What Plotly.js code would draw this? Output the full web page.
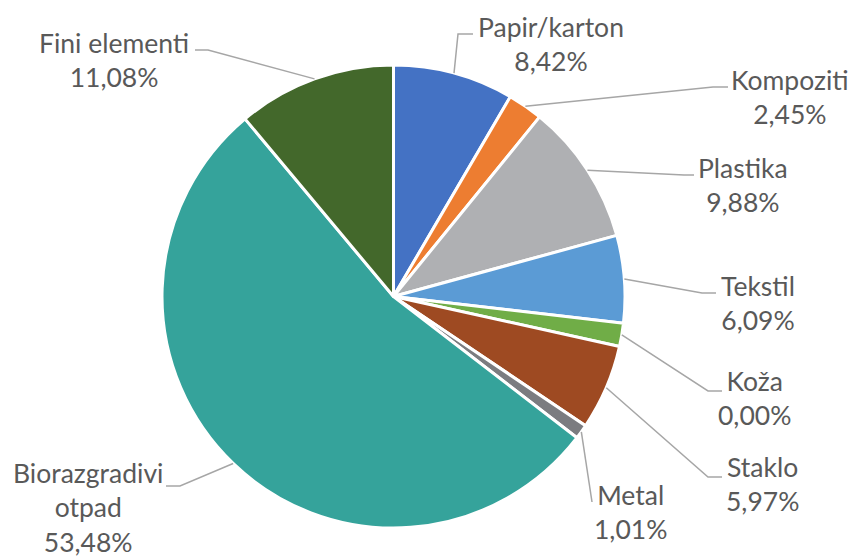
<!DOCTYPE html>
<html>
<head>
<meta charset="utf-8">
<script src="https://cdn.plot.ly/plotly-3.0.1.min.js"></script>
<style>html,body{margin:0;padding:0;background:#fff;}#chart{width:849px;height:560px;}</style>
</head>
<body>
<div id="chart"></div>
<script>
// ---- data ----
const categories = ["Papir/karton","Kompoziti","Plastika","Tekstil","Koža","Staklo","Metal","Biorazgradivi otpad","Fini elementi"];
const displayNames = ["Papir/karton","Kompoziti","Plastika","Tekstil","Koža","Staklo","Metal","Biorazgradivi<br>otpad","Fini elementi"];
const values = [8.42, 2.45, 9.88, 6.09, 1.62, 5.97, 1.01, 53.48, 11.08];
const percentLabels = ["8,42%","2,45%","9,88%","6,09%","0,00%","5,97%","1,01%","53,48%","11,08%"];

// ---- style / layout config ----
const colors = ["#4472C4","#ED7D31","#AFB0B3","#5B9BD5","#70AD47","#9E4A22","#7B7C80","#35A39B","#43682B"];
const W = 849, H = 560;
const M = {l:162, r:224, t:65, b:32};
const PW = W - M.l - M.r, PH = H - M.t - M.b;
// label block centres, leader elbow and end (pixels)
const labelCenters = [[551,44],[790,97],[743,185],[758,303],[754,398],[762,484],[630,512],[88,507],[114,60]];
const elbows = [[458,34],[713,87],[684,175],[702,293],[708,391],[708,477],[592,502],[180,486],[208,50]];
const ends   = [[473,34],[728,87],[694,175],[716,293],[722,391],[722,477],[592,502],[166,486],[195,50]];

const px2x = p => (p - M.l) / PW;
const py2y = p => 1 - (p - M.t) / PH;

const total = values.reduce((a,b)=>a+b,0);
const annotations = [];
const shapes = [];
let cum = 0;
values.forEach((v,i)=>{
  const mid = (cum + v/2) / total * 2 * Math.PI;
  cum += v;
  // slice edge point in paper coords (pie fills the square plot area)
  const sx = 0.5 + 0.5 * Math.sin(mid);
  const sy = 0.5 + 0.5 * Math.cos(mid);
  shapes.push({
    type:'path', xref:'paper', yref:'paper',
    path:`M ${sx},${sy} L ${px2x(elbows[i][0])},${py2y(elbows[i][1])} L ${px2x(ends[i][0])},${py2y(ends[i][1])}`,
    line:{color:'#A6A6A6', width:1.5}
  });
  annotations.push({
    xref:'paper', yref:'paper',
    x: px2x(labelCenters[i][0]), y: py2y(labelCenters[i][1]),
    xanchor:'center', yanchor:'middle', showarrow:false,
    text: displayNames[i] + '<br>' + percentLabels[i],
    font:{family:'Lato, "Open Sans", sans-serif', size:26.5, color:'#595959'},
    align:'center', borderpad:0
  });
});

const trace = {
  type:'pie',
  labels: categories,
  values: values,
  sort:false,
  direction:'clockwise',
  rotation:0,
  textinfo:'none',
  hoverinfo:'none',
  marker:{colors:colors, line:{color:'#FFFFFF', width:3}},
  domain:{x:[0,1], y:[0,1]}
};

const layout = {
  width:W, height:H,
  margin:M,
  showlegend:false,
  paper_bgcolor:'#FFFFFF',
  plot_bgcolor:'#FFFFFF',
  annotations: annotations,
  shapes: shapes
};

Plotly.newPlot('chart', [trace], layout, {displayModeBar:false, staticPlot:true});
</script>
</body>
</html>
